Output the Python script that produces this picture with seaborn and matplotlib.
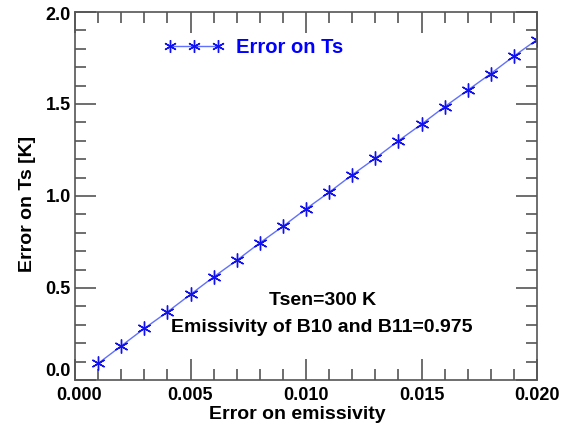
import numpy as np
import pandas as pd
import matplotlib
matplotlib.use("Agg")
import matplotlib.pyplot as plt
import seaborn as sns
from matplotlib.ticker import MultipleLocator, FormatStrFormatter
from matplotlib.lines import Line2D
from matplotlib.transforms import ScaledTranslation

err_emis = [0.001, 0.002, 0.003, 0.004, 0.005, 0.006, 0.007, 0.008, 0.009, 0.010,
            0.011, 0.012, 0.013, 0.014, 0.015, 0.016, 0.017, 0.018, 0.019, 0.020]
err_ts = [0.09, 0.185, 0.28, 0.37, 0.465, 0.56, 0.65, 0.745, 0.835, 0.93,
          1.02, 1.115, 1.205, 1.30, 1.39, 1.485, 1.575, 1.665, 1.76, 1.85]
series_label = "Error on Ts"
note1 = "Tsen=300 K"
note2 = "Emissivity of B10 and B11=0.975"

sns.set_style("ticks")
plt.rcParams['font.family'] = ['Liberation Sans', 'DejaVu Sans']
plt.rcParams['font.weight'] = 'bold'
plt.rcParams['text.color'] = 'black'
plt.rcParams['axes.labelcolor'] = 'black'

df = pd.DataFrame({"x": err_emis, "y": err_ts})

fig = plt.figure(figsize=(5.73, 4.32), dpi=100)
ax = fig.add_axes([75/573, 1-380/432, 462/573, 368/432])

sns.lineplot(data=df, x="x", y="y", ax=ax, color="#6070ff", linewidth=1.0,
             marker=(6, 2, 0), markersize=10, markeredgecolor="#1010f0",
             markeredgewidth=1.0, label=series_label, legend=False)

ax.set_xlim(0, 0.020)
ax.set_ylim(0, 2.0)
ax.xaxis.set_major_locator(MultipleLocator(0.005))
ax.xaxis.set_minor_locator(MultipleLocator(0.001))
ax.yaxis.set_major_locator(MultipleLocator(0.5))
ax.yaxis.set_minor_locator(MultipleLocator(0.1))
ax.xaxis.set_major_formatter(FormatStrFormatter('%.3f'))
ax.yaxis.set_major_formatter(FormatStrFormatter('%.1f'))

ax.tick_params(which='both', direction='in', top=True, right=True, color='#555555',
               width=1.2, labelsize=13, labelcolor='black')
ax.tick_params(axis='x', pad=5)
ax.tick_params(axis='y', pad=3)
ax.tick_params(which='major', length=15)
ax.tick_params(which='minor', length=8)
for s in ax.spines.values():
    s.set_color('#555555')
    s.set_linewidth(1.2)

ax.set_xlabel("Error on emissivity", fontsize=14, fontweight='bold')
ax.set_ylabel("Error on Ts [K]", fontsize=14, fontweight='bold')
ax.xaxis.set_label_coords(0.4816, -0.072)
ax.yaxis.set_label_coords(-0.0844, 0.478)

handle = Line2D([], [], color="#6070ff", linewidth=1.0, marker=(6, 2, 0),
                markersize=9, markeredgecolor="#1010f0", markeredgewidth=1.0)
leg = ax.legend([handle], [series_label], loc='upper left', bbox_to_anchor=(0.153, 0.979),
                numpoints=3, frameon=False, handlelength=3.0, handletextpad=0.6,
                prop={'size': 14.5, 'weight': 'bold'})
for t in leg.get_texts():
    t.set_color('#0000ff')

ax.text(0.0107, 0.43, note1, ha='center', va='center', fontsize=14, fontweight='bold')
ax.text(0.0107, 0.283, note2, ha='center', va='center', fontsize=14, fontweight='bold')

fig.canvas.draw()
for tk in ax.yaxis.get_major_ticks():
    loc = tk.get_loc()
    if abs(loc - 0.0) < 1e-9:
        tk.label1.set_verticalalignment('bottom')
    elif abs(loc - 2.0) < 1e-9:
        tk.label1.set_transform(tk.label1.get_transform() +
                                ScaledTranslation(0, -0.02, fig.dpi_scale_trans))
for tk in ax.xaxis.get_major_ticks():
    if abs(tk.get_loc() - 0.0) < 1e-12:
        tk.label1.set_transform(tk.label1.get_transform() +
                                ScaledTranslation(0.04, 0, fig.dpi_scale_trans))

fig.savefig("out.png", dpi=100)
